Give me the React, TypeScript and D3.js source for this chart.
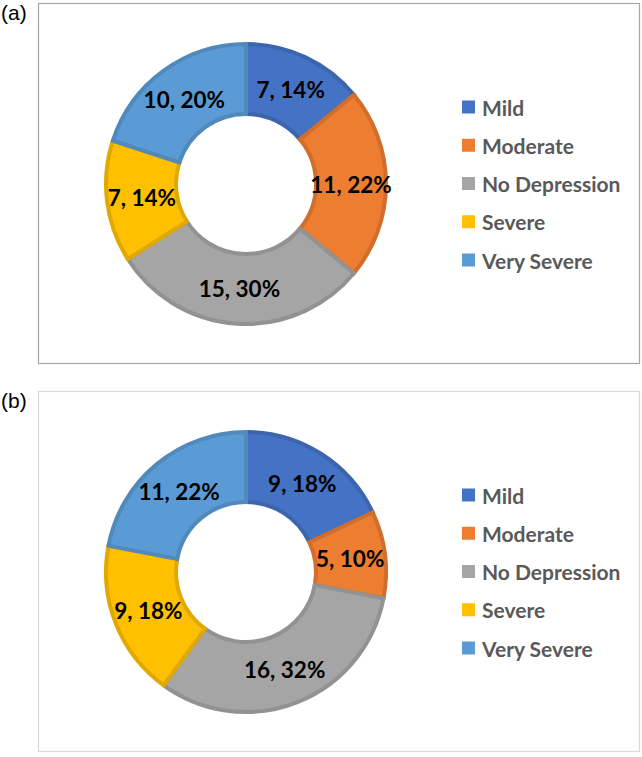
import React from 'react';
import * as d3 from 'd3';

// categories and counts
const categories = ['Mild', 'Moderate', 'No Depression', 'Severe', 'Very Severe'];
const countsA = [7, 11, 15, 7, 10];
const countsB = [9, 5, 16, 9, 11];
const colors = ['#4472C4', '#ED7D31', '#A5A5A5', '#FFC000', '#5B9BD5'];
const panelLabels = ['(a)', '(b)'];

const W = 642;
const H = 757;

interface PanelProps {
  values: number[];
  label: string;
  top: number;
  borderColor: string;
}

const Panel: React.FC<PanelProps> = ({ values, label, top, borderColor }) => {
  const outer = 140;
  const inner = 70;
  const cx = 246;
  const cy = top + 181;
  const total = d3.sum(values);

  const pie = d3.pie<number>().sort(null).value(d => d);
  const arcs = pie(values);
  const arc = d3.arc<d3.PieArcDatum<number>>().innerRadius(inner).outerRadius(outer);

  // legend rows
  const legendY = d3.scalePoint<string>()
    .domain(categories)
    .range([cy - 77, cy + 76]);

  return (
    <g>
      <text x={1} y={top + 17} fontFamily="'Liberation Sans', Arial, sans-serif" fontSize={21} fill="#000">
        {label}
      </text>
      <rect x={38.5} y={top + 0.5} width={601} height={360} fill="#fff" stroke={borderColor} strokeWidth={1.2} />
      <g transform={`translate(${cx},${cy})`}>
        {arcs.map((a, i) => (
          <path
            key={i}
            d={arc(a) ?? ''}
            fill={colors[i]}
            stroke={d3.color(colors[i])!.darker(0.35).formatHex()}
            strokeWidth={4}
          />
        ))}
        {arcs.map((a, i) => {
          const [x, y] = arc.centroid(a);
          return (
            <text
              key={'l' + i}
              x={x}
              y={y}
              textAnchor="middle"
              dominantBaseline="central"
              fontFamily="Lato, 'Open Sans', sans-serif"
              fontWeight="bold"
              fontSize={22.5}
              fill="#000"
            >
              {`${values[i]}, ${Math.round((values[i] / total) * 100)}%`}
            </text>
          );
        })}
      </g>
      {categories.map((c, i) => {
        const y = legendY(c) as number;
        return (
          <g key={c}>
            <rect x={462} y={y - 6.5} width={13} height={13} fill={colors[i]} />
            <text
              x={482}
              y={y}
              dominantBaseline="central"
              fontFamily="Lato, 'Open Sans', sans-serif"
              fontWeight="bold"
              fontSize={21}
              fill="#595959"
            >
              {c}
            </text>
          </g>
        );
      })}
    </g>
  );
};

export default function App() {
  return (
    <div style={{ position: 'absolute', left: 0, top: 0, background: '#fff' }}>
      <svg width={W} height={H} viewBox={`0 0 ${W} ${H}`}>
        <rect width={W} height={H} fill="#fff" />
        <Panel values={countsA} label={panelLabels[0]} top={3} borderColor="#A6A6A6" />
        <Panel values={countsB} label={panelLabels[1]} top={391} borderColor="#D9D9D9" />
      </svg>
    </div>
  );
}
